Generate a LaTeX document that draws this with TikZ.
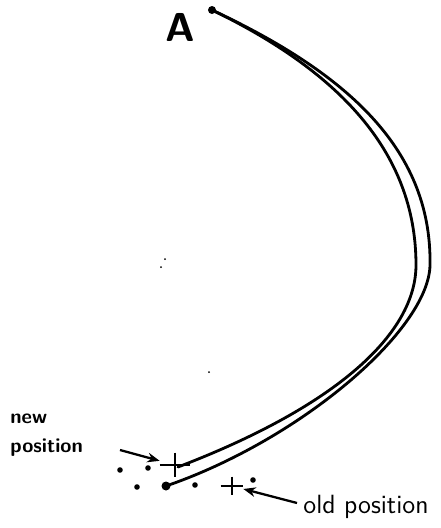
\documentclass[tikz,border=0pt]{standalone}
\usepackage{tikz}
\usetikzlibrary{arrows.meta,positioning}
\tikzset{
  track/.style={line width=1.6pt, line cap=round, line join=round},
  pointer/.style={line width=1.3pt, -{Stealth[length=7pt,width=5.5pt]}},
  plusmark/.style={inner sep=0pt, minimum width=0.6cm, minimum height=0.48cm},
  crossbar/.style={line width=1.6pt},
  note/.style={inner sep=0pt, font=\sffamily}
}

\begin{document}
\begin{tikzpicture}[x=0.02cm,y=-0.02cm]
  \useasboundingbox (0,0) rectangle (440,528);
  % start point
  \coordinate (top) at (212,10);
  \fill (top) circle (4);
  \node[note, font=\sffamily\bfseries\fontsize{23}{28}\selectfont] (A) at (180,27) {A};

  % end dot
  \coordinate (stop) at (166,486);
  \fill (stop) circle (4.5);

  % new position
  \node[plusmark] (newpos) at (175,465) {};
  \draw[crossbar] (newpos.north) -- (newpos.south) (newpos.west) -- (newpos.east);
  % old position
  \node[plusmark, minimum width=0.44cm, minimum height=0.36cm] (oldpos) at (232,486) {};
  \draw[crossbar] (oldpos.north) -- (oldpos.south) (oldpos.west) -- (oldpos.east);

  % outer path (ends at the dot)
  \draw[track] (top) .. controls (340,70) and (432,145) .. (430,265)
                     .. controls (429,330) and (300,440) .. (stop);
  % inner path (ends at new position)
  \draw[track] (top) .. controls (336,70) and (416,150) .. (416,265)
                     .. controls (416,332) and (340,405) .. (178,467);

  % scattered points
  \foreach \x/\y in {120/470, 148/468, 137/487, 195/485, 253/480} {
    \fill (\x,\y) circle (2.8);
  }
  % specks
  \foreach \x/\y in {165/259, 161/267, 209/372} {
    \fill (\x,\y) circle (1);
  }

  % labels
  \node[note, anchor=base west, align=left, font=\sffamily\bfseries\fontsize{11.5}{16.5}\selectfont] (newlbl) at (10,452) {new\\position};
  \node[note, anchor=base west, font=\sffamily\fontsize{15}{18}\selectfont] (oldlbl) at (303,513) {old position};

  % arrows
  \coordinate (newtail) at (120,450);
  \coordinate (oldtail) at (297,503);
  \draw[pointer] (newtail) -- (newpos);
  \draw[pointer] (oldtail) -- (oldpos);
\end{tikzpicture}
\end{document}
